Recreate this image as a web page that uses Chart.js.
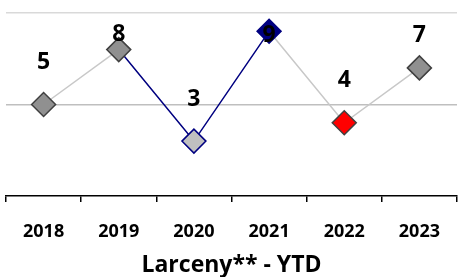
<!DOCTYPE html>
<html>
<head>
<meta charset="utf-8">
<script src="https://cdn.jsdelivr.net/npm/chart.js@4.4.0/dist/chart.umd.min.js"></script>
<style>
  html, body { margin: 0; padding: 0; background: #fff; }
  #wrap { width: 466px; height: 277px; }
</style>
</head>
<body>
<div id="wrap"><canvas id="c" width="466" height="277"></canvas></div>
<script>
// données
const years = ['2018', '2019', '2020', '2021', '2022', '2023'];
const values = [5, 8, 3, 9, 4, 7];
const pointFill = ['#909090', '#909090', '#c0c0c0', '#000080', '#ff0000', '#909090'];
const pointEdge = ['#404040', '#404040', '#000080', '#000080', '#404040', '#404040'];
const segColors = ['#c8c8c8', '#000080', '#000080', '#c8c8c8', '#c8c8c8'];
const titre = 'Larceny** - YTD';

const FONT = '"Open Sans", sans-serif';

// décalage vertical des étiquettes (px) par point
const labelShift = [-42, -15, -42, 4, -42, -32];

const valueLabels = {
  id: 'valueLabels',
  afterDatasetsDraw(chart) {
    const ctx = chart.ctx;
    const meta = chart.getDatasetMeta(0);
    ctx.save();
    ctx.font = 'bold 23px ' + FONT;
    ctx.fillStyle = '#000';
    ctx.textAlign = 'center';
    ctx.textBaseline = 'middle';
    meta.data.forEach((pt, i) => {
      ctx.fillText(String(values[i]), pt.x, pt.y + labelShift[i]);
    });
    ctx.restore();
  }
};

new Chart(document.getElementById('c'), {
  type: 'line',
  data: {
    labels: years,
    datasets: [{
      data: values,
      borderWidth: 1.5,
      borderColor: '#c8c8c8',
      segment: { borderColor: c => segColors[c.p0DataIndex] },
      pointStyle: 'rectRot',
      pointRadius: 12,
      pointHoverRadius: 12,
      pointBackgroundColor: pointFill,
      pointBorderColor: pointEdge,
      pointBorderWidth: 1.5,
      tension: 0
    }]
  },
  options: {
    responsive: false,
    animation: false,
    events: [],
    layout: { autoPadding: false, padding: { top: 13, left: 6, right: 9, bottom: 0 } },
    plugins: { legend: { display: false }, tooltip: { enabled: false } },
    scales: {
      x: {
        offset: true,
        afterFit: s => { s.height = 81; },
        grid: { offset: true, drawOnChartArea: false, drawTicks: true, tickLength: 6, color: '#000', lineWidth: 1.5 },
        border: { display: true, color: '#000', width: 1.5 },
        ticks: { color: '#000', font: { family: FONT, size: 18, weight: 'bold' }, padding: 19, maxRotation: 0, minRotation: 0, autoSkip: false },
        title: { display: true, text: titre, color: '#000', font: { family: FONT, size: 23, weight: 'bold', lineHeight: 1 }, padding: { top: 0, bottom: 0.5 } }
      },
      y: {
        min: 0,
        max: 10,
        afterFit: s => { s.width = 0; },
        ticks: { display: false, stepSize: 5 },
        border: { display: false },
        grid: {
          drawTicks: false,
          lineWidth: 1.5,
          color: c => c.tick.value === 10 ? '#d9d9d9' : (c.tick.value === 5 ? '#bfbfbf' : 'rgba(0,0,0,0)')
        }
      }
    }
  },
  plugins: [valueLabels]
});
</script>
</body>
</html>
